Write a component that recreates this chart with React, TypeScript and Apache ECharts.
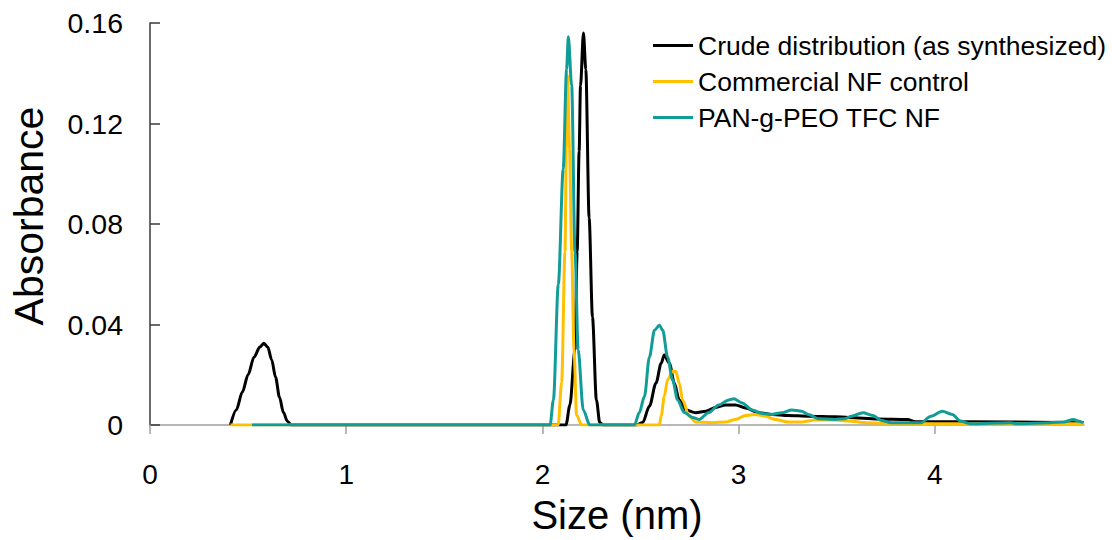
import React, { useEffect, useRef } from "react";
import * as echarts from "echarts";

const seriesNames = [
  "Crude distribution (as synthesized)",
  "Commercial NF control",
  "PAN-g-PEO TFC NF",
];

const xTickValues = [0, 1, 2, 3, 4];
const yTickValues = [0, 0.04, 0.08, 0.12, 0.16];

const crudeX = [0.41, 0.44, 0.47, 0.5, 0.53, 0.56, 0.58, 0.6, 0.62, 0.64, 0.66, 0.68, 0.7, 0.72, 2.12, 2.14, 2.166, 2.177, 2.187, 2.194, 2.209, 2.221, 2.238, 2.255, 2.275, 2.292, 2.31, 2.48, 2.511, 2.545, 2.579, 2.605, 2.621, 2.647, 2.672, 2.697, 2.73, 2.781, 2.832, 2.883, 2.933, 2.984, 3.035, 3.102, 3.17, 3.254, 3.355, 3.49, 3.56, 3.71, 3.86, 3.9, 4.4, 4.76];
const crudeY = [0, 0.006, 0.013, 0.02, 0.027, 0.031, 0.0325, 0.031, 0.026, 0.019, 0.011, 0.005, 0.0015, 0, 0, 0.008, 0.03, 0.069, 0.109, 0.135, 0.156, 0.1416, 0.0824, 0.043, 0.01, 0.001, 0, 0, 0.001, 0.0075, 0.0167, 0.0246, 0.0279, 0.0246, 0.0167, 0.01, 0.006, 0.0049, 0.0055, 0.007, 0.008, 0.008, 0.0068, 0.0049, 0.0042, 0.0038, 0.0035, 0.0033, 0.003, 0.0024, 0.0022, 0.0013, 0.0012, 0.0009];

const commercialX = [0.41, 2.08, 2.098, 2.115, 2.123, 2.128, 2.138, 2.149, 2.161, 2.174, 2.2, 2.596, 2.605, 2.621, 2.638, 2.663, 2.68, 2.697, 2.714, 2.748, 2.781, 2.866, 2.933, 2.984, 3.035, 3.085, 3.136, 3.186, 3.254, 3.32, 3.388, 3.49, 3.56, 3.65, 3.75, 4.0, 4.76];
const commercialY = [0, 0, 0.017, 0.069, 0.122, 0.139, 0.11, 0.069, 0.03, 0.004, 0, 0, 0.0035, 0.0114, 0.018, 0.0213, 0.0213, 0.0167, 0.01, 0.0035, 0.0012, 0.0009, 0.0012, 0.0022, 0.0038, 0.0042, 0.0035, 0.0022, 0.0012, 0.0012, 0.002, 0.002, 0.0016, 0.0009, 0.0007, 0.0005, 0.0005];

const panX = [0.52, 2.039, 2.056, 2.081, 2.106, 2.123, 2.132, 2.149, 2.166, 2.182, 2.208, 2.241, 2.469, 2.494, 2.52, 2.545, 2.571, 2.596, 2.613, 2.638, 2.663, 2.689, 2.722, 2.765, 2.798, 2.848, 2.899, 2.95, 2.975, 3.018, 3.068, 3.119, 3.17, 3.22, 3.271, 3.32, 3.355, 3.405, 3.49, 3.541, 3.575, 3.633, 3.684, 3.727, 3.777, 3.929, 3.98, 4.038, 4.089, 4.13, 4.18, 4.385, 4.42, 4.587, 4.655, 4.706, 4.73, 4.756];
const panY = [0, 0, 0.01, 0.056, 0.102, 0.1416, 0.1545, 0.135, 0.069, 0.03, 0.006, 0, 0, 0.005, 0.0114, 0.027, 0.0377, 0.0397, 0.0377, 0.027, 0.018, 0.01, 0.005, 0.003, 0.0022, 0.005, 0.008, 0.01, 0.0104, 0.0088, 0.006, 0.0046, 0.0042, 0.0049, 0.006, 0.0055, 0.0042, 0.0025, 0.0022, 0.0025, 0.0035, 0.0049, 0.0038, 0.0018, 0.0009, 0.0009, 0.0035, 0.0055, 0.0042, 0.0016, 0.0005, 0.0009, 0.0005, 0.0009, 0.0012, 0.0022, 0.0016, 0.0009];

const zip = (xs: number[], ys: number[]) => xs.map((x, i) => [x, ys[i]]);

const FONT = "'Liberation Sans', Arial, sans-serif";

export default function App() {
  const ref = useRef<HTMLDivElement>(null);
  useEffect(() => {
    if (!ref.current) return;
    const chart = echarts.init(ref.current, null, { renderer: "svg" });
    const colors = ["#000000", "#FFC000", "#129C98"];
    const datas = [zip(crudeX, crudeY), zip(commercialX, commercialY), zip(panX, panY)];
    chart.setOption({
      animation: false,
      textStyle: { fontFamily: FONT },
      grid: { left: 144, right: 28, top: 23, bottom: 111, containLabel: false },
      legend: {
        orient: "vertical",
        left: 648,
        top: 27,
        icon: "rect",
        itemWidth: 40,
        itemHeight: 3,
        itemGap: 9,
        textStyle: { fontSize: 26.5, color: "#000", fontFamily: FONT, lineHeight: 26 },
        data: seriesNames,
      },
      xAxis: {
        type: "value",
        min: 0,
        max: 4.76,
        interval: 1,
        name: "Size (nm)",
        nameLocation: "middle",
        nameGap: 70,
        nameTextStyle: { fontSize: 40, color: "#000", fontFamily: FONT },
        axisLine: { lineStyle: { color: "#a0a0a0", width: 1.5 } },
        axisTick: { show: true, length: 9, lineStyle: { color: "#a0a0a0", width: 1.5 }, customValues: xTickValues },
        axisLabel: { fontSize: 28, color: "#000", margin: 35, fontFamily: FONT, customValues: xTickValues, formatter: (v: number) => String(v) },
        splitLine: { show: false },
      },
      yAxis: {
        type: "value",
        min: 0,
        max: 0.16,
        interval: 0.04,
        name: "Absorbance",
        nameLocation: "middle",
        nameGap: 101,
        nameTextStyle: { fontSize: 41, color: "#000", fontFamily: FONT, padding: [0, 0, 0, 16] },
        axisLine: { show: true, lineStyle: { color: "#3a3a3a", width: 1.5 } },
        axisTick: { show: true, inside: true, length: 10, lineStyle: { color: "#3a3a3a", width: 1.5 }, customValues: yTickValues },
        axisLabel: {
          fontSize: 28.5,
          color: "#000",
          margin: 27,
          fontFamily: FONT,
          customValues: yTickValues,
          formatter: (v: number) => (v === 0 ? "0" : v.toFixed(2)),
        },
        splitLine: { show: false },
      },
      series: seriesNames.map((name, i) => ({
        name,
        type: "line",
        data: datas[i],
        showSymbol: false,
        symbol: "none",
        smooth: 0.3,
        smoothMonotone: "x",
        lineStyle: { color: colors[i], width: 3 },
        itemStyle: { color: colors[i] },
        z: 2 + i,
      })),
    });
    return () => chart.dispose();
  }, []);
  return <div ref={ref} style={{ width: 1112, height: 540, position: "absolute", left: 0, top: 0 }} />;
}
